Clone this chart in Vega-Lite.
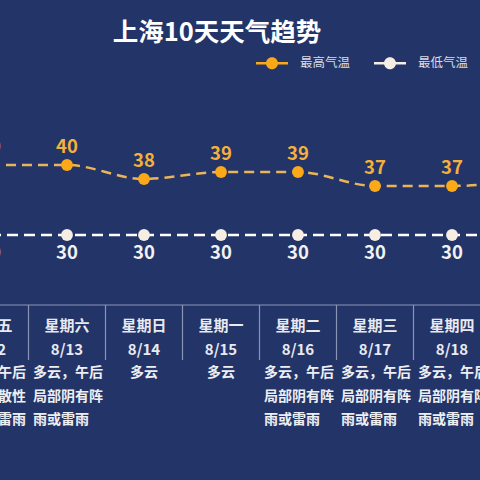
{
  "$schema": "https://vega.github.io/schema/vega-lite/v6.json",
  "width": 480,
  "height": 480,
  "autosize": {"type": "none"},
  "padding": 0,
  "background": "#233468",
  "title": {"text": "上海10天天气趋势", "anchor": "middle", "dx": -23, "offset": -46, "fontSize": 25.5, "font": "Noto Sans CJK SC", "fontWeight": "bold", "color": "#FFFFFF"},
  "config": {
    "view": {"stroke": null},
    "axis": {"disable": true}
  },
  "datasets": {
    "temps": [
      {"idx": 0, "date": "8/12", "最高气温": 40, "最低气温": 30},
      {"idx": 1, "date": "8/13", "最高气温": 40, "最低气温": 30},
      {"idx": 2, "date": "8/14", "最高气温": 38, "最低气温": 30},
      {"idx": 3, "date": "8/15", "最高气温": 39, "最低气温": 30},
      {"idx": 4, "date": "8/16", "最高气温": 39, "最低气温": 30},
      {"idx": 5, "date": "8/17", "最高气温": 37, "最低气温": 30},
      {"idx": 6, "date": "8/18", "最高气温": 37, "最低气温": 30},
      {"idx": 7, "date": "8/19", "最高气温": 38, "最低气温": 30}
    ],
    "table": [
      {"idx": 0, "row": 0, "text": "星期五", "kind": "head"},
      {"idx": 0, "row": 1, "text": "8/12", "kind": "head"},
      {"idx": 0, "row": 2, "text": "多云，午后", "kind": "wrap"},
      {"idx": 0, "row": 3, "text": "局部分散性", "kind": "wrap"},
      {"idx": 0, "row": 4, "text": "阵雨或雷雨", "kind": "wrap"},
      {"idx": 1, "row": 0, "text": "星期六", "kind": "head"},
      {"idx": 1, "row": 1, "text": "8/13", "kind": "head"},
      {"idx": 1, "row": 2, "text": "多云，午后", "kind": "wrap"},
      {"idx": 1, "row": 3, "text": "局部阴有阵", "kind": "wrap"},
      {"idx": 1, "row": 4, "text": "雨或雷雨", "kind": "wrap"},
      {"idx": 2, "row": 0, "text": "星期日", "kind": "head"},
      {"idx": 2, "row": 1, "text": "8/14", "kind": "head"},
      {"idx": 2, "row": 2, "text": "多云", "kind": "short"},
      {"idx": 3, "row": 0, "text": "星期一", "kind": "head"},
      {"idx": 3, "row": 1, "text": "8/15", "kind": "head"},
      {"idx": 3, "row": 2, "text": "多云", "kind": "short"},
      {"idx": 4, "row": 0, "text": "星期二", "kind": "head"},
      {"idx": 4, "row": 1, "text": "8/16", "kind": "head"},
      {"idx": 4, "row": 2, "text": "多云，午后", "kind": "wrap"},
      {"idx": 4, "row": 3, "text": "局部阴有阵", "kind": "wrap"},
      {"idx": 4, "row": 4, "text": "雨或雷雨", "kind": "wrap"},
      {"idx": 5, "row": 0, "text": "星期三", "kind": "head"},
      {"idx": 5, "row": 1, "text": "8/17", "kind": "head"},
      {"idx": 5, "row": 2, "text": "多云，午后", "kind": "wrap"},
      {"idx": 5, "row": 3, "text": "局部阴有阵", "kind": "wrap"},
      {"idx": 5, "row": 4, "text": "雨或雷雨", "kind": "wrap"},
      {"idx": 6, "row": 0, "text": "星期四", "kind": "head"},
      {"idx": 6, "row": 1, "text": "8/18", "kind": "head"},
      {"idx": 6, "row": 2, "text": "多云，午后", "kind": "wrap"},
      {"idx": 6, "row": 3, "text": "局部阴有阵", "kind": "wrap"},
      {"idx": 6, "row": 4, "text": "雨或雷雨", "kind": "wrap"}
    ],
    "dividers": [
      {"div": 0.5}, {"div": 1.5}, {"div": 2.5}, {"div": 3.5}, {"div": 4.5}, {"div": 5.5}, {"div": 6.5}
    ]
  },
  "layer": [
    {
      "data": {"name": "temps"},
      "transform": [{"fold": ["最高气温", "最低气温"], "as": ["series", "temp"]}],
      "encoding": {
        "x": {"field": "idx", "type": "quantitative", "scale": {"domain": [0.12987, 6.3636], "nice": false, "zero": false}},
        "y": {"field": "temp", "type": "quantitative", "scale": {"domain": [-5, 63.571], "nice": false, "zero": false}}
      },
      "layer": [
        {
          "transform": [{"filter": "datum.series === '最高气温'"}],
          "mark": {"type": "line", "color": "#E9B45A", "strokeWidth": 2.5, "strokeDash": [10, 6], "interpolate": "monotone"}
        },
        {
          "transform": [{"filter": "datum.series === '最低气温'"}],
          "mark": {"type": "line", "color": "#FFFFFF", "strokeWidth": 2.5, "strokeDash": [11, 6], "interpolate": "monotone"}
        },
        {
          "mark": {"type": "point", "filled": true, "opacity": 1, "size": 140},
          "encoding": {
            "color": {
              "field": "series", "type": "nominal",
              "scale": {"domain": ["最高气温", "最低气温"], "range": ["#FBA918", "#F7EEE3"]},
              "legend": {
                "title": null,
                "orient": "none", "legendX": 256, "legendY": 47, "direction": "horizontal",
                "symbolType": "M-1,-0.08L-0.36,-0.08L-0.36,0.08L-1,0.08ZM0.36,-0.08L1,-0.08L1,0.08L0.36,0.08ZM-0.375,0A0.375,0.375,0,1,1,0.375,0A0.375,0.375,0,1,1,-0.375,0Z",
                "symbolSize": 1024, "symbolStrokeWidth": 0,
                "labelColor": "#D9DCE6", "labelFontSize": 12.5, "labelFont": "Noto Sans CJK SC",
                "labelOffset": 12, "columnPadding": 23
              }
            }
          }
        },
        {
          "transform": [{"filter": "datum.series === '最高气温'"}],
          "mark": {"type": "text", "dy": -18, "fontSize": 18.5, "fontWeight": "bold", "font": "Noto Sans CJK SC", "color": "#F4B03A"},
          "encoding": {"text": {"field": "temp", "type": "quantitative"}}
        },
        {
          "transform": [{"filter": "datum.series === '最低气温'"}],
          "mark": {"type": "text", "dy": 18, "fontSize": 18.5, "fontWeight": "bold", "font": "Noto Sans CJK SC", "color": "#F2F2F2"},
          "encoding": {"text": {"field": "temp", "type": "quantitative"}}
        }
      ]
    },
    {
      "layer": [
        {
          "data": {"name": "dividers"},
          "mark": {"type": "rule", "color": "#8A94B5", "strokeWidth": 1.2},
          "encoding": {
            "x": {"field": "div", "type": "quantitative", "scale": {"domain": [0.12987, 6.3636], "nice": false, "zero": false}},
            "y": {"datum": -0.894, "type": "quantitative", "scale": {"domain": [-13.872, 6.553], "reverse": true, "nice": false, "zero": false}},
            "y2": {"datum": 1.447}
          }
        },
        {
          "data": {"values": [{}]},
          "mark": {"type": "rule", "color": "#8A94B5", "strokeWidth": 1.2},
          "encoding": {
            "y": {"datum": -0.894, "type": "quantitative", "scale": {"domain": [-13.872, 6.553], "reverse": true, "nice": false, "zero": false}}
          }
        },
        {
          "data": {"name": "table"},
          "transform": [{"filter": "datum.kind === 'head'"}],
          "mark": {"type": "text", "fontSize": 15, "fontWeight": "bold", "font": "Noto Sans CJK SC", "color": "#E8EAF0", "align": "center", "baseline": "middle"},
          "encoding": {
            "x": {"field": "idx", "type": "quantitative", "scale": {"domain": [0.12987, 6.3636], "nice": false, "zero": false}},
            "y": {"field": "row", "type": "quantitative", "scale": {"domain": [-13.872, 6.553], "reverse": true, "nice": false, "zero": false}},
            "text": {"field": "text"}
          }
        },
        {
          "data": {"name": "table"},
          "transform": [{"filter": "datum.kind === 'short'"}],
          "mark": {"type": "text", "fontSize": 14, "fontWeight": "bold", "font": "Noto Sans CJK SC", "color": "#EDEFF3", "align": "center", "baseline": "middle"},
          "encoding": {
            "x": {"field": "idx", "type": "quantitative", "scale": {"domain": [0.12987, 6.3636], "nice": false, "zero": false}},
            "y": {"field": "row", "type": "quantitative", "scale": {"domain": [-13.872, 6.553], "reverse": true, "nice": false, "zero": false}},
            "text": {"field": "text"}
          }
        },
        {
          "data": {"name": "table"},
          "transform": [{"filter": "datum.kind === 'wrap'"}],
          "mark": {"type": "text", "fontSize": 14, "fontWeight": "bold", "font": "Noto Sans CJK SC", "color": "#EDEFF3", "align": "left", "baseline": "middle", "dx": -34},
          "encoding": {
            "x": {"field": "idx", "type": "quantitative", "scale": {"domain": [0.12987, 6.3636], "nice": false, "zero": false}},
            "y": {"field": "row", "type": "quantitative", "scale": {"domain": [-13.872, 6.553], "reverse": true, "nice": false, "zero": false}},
            "text": {"field": "text"}
          }
        }
      ]
    }
  ],
  "resolve": {"scale": {"y": "independent"}}
}
